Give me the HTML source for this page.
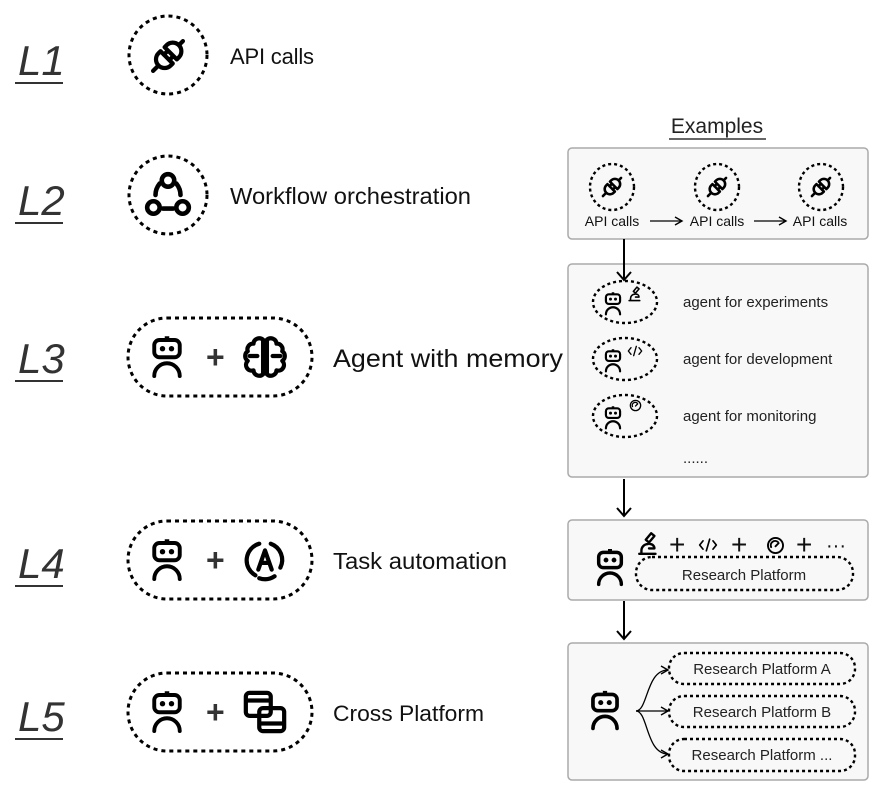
<!DOCTYPE html>
<html><head><meta charset="utf-8"><style>
html,body{margin:0;padding:0;background:#fff;}
svg{display:block;font-family:"Liberation Sans",sans-serif;}
</style></head><body>
<svg width="885" height="796" viewBox="0 0 885 796" xmlns="http://www.w3.org/2000/svg">
<defs>
<symbol id="robot" viewBox="0 0 24 28">
  <g fill="none" stroke="#000" stroke-width="2.6" stroke-linecap="round">
    <rect x="10.5" y="0.5" width="3" height="2.5" fill="#000" stroke="none"/>
    <rect x="3.5" y="3" width="17" height="11.5" rx="3.5"/>
    <path d="M3.5 27 A8.5 8.5 0 0 1 20.5 27"/>
  </g>
  <circle cx="9" cy="8.8" r="1.8" fill="#000"/><circle cx="15" cy="8.8" r="1.8" fill="#000"/>
</symbol>
<symbol id="plug" viewBox="0 0 24 24">
  <g fill="none" stroke="#000" stroke-width="2.2" stroke-linecap="round" stroke-linejoin="round" transform="rotate(45 12 12)">
    <line x1="12" y1="23" x2="12" y2="19"/>
    <path d="M7.5 13 h9 v1.5 a4.5 4.5 0 0 1 -9 0 z"/>
    <line x1="10" y1="13" x2="10" y2="10.5"/><line x1="14" y1="13" x2="14" y2="10.5"/>
    <path d="M7.5 10 h9 v-1.5 a4.5 4.5 0 0 0 -9 0 z"/>
    <line x1="12" y1="4" x2="12" y2="1"/>
  </g>
</symbol>
<symbol id="flow" viewBox="0 0 24 24">
  <g fill="none" stroke="#000" stroke-width="2.2" stroke-linecap="round">
    <circle cx="12" cy="5" r="3"/><circle cx="5" cy="18" r="3"/><circle cx="19" cy="18" r="3"/>
    <path d="M8 6.5 Q6 9 6 12"/><path d="M16 6.5 Q18 9 18 12"/><line x1="9.5" y1="18.5" x2="14.5" y2="18.5"/>
  </g>
</symbol>
<symbol id="brain" viewBox="0 0 24 24">
  <g fill="none" stroke="#000" stroke-width="2.2" stroke-linecap="round" stroke-linejoin="round">
    <path d="M11 3 a3 3 0 0 0 -5 2 a3 3 0 0 0 -3 4 a3 3 0 0 0 0 5 a3 3 0 0 0 3 5 a3 3 0 0 0 5 2 z"/>
    <path d="M13 3 a3 3 0 0 1 5 2 a3 3 0 0 1 3 4 a3 3 0 0 1 0 5 a3 3 0 0 1 -3 5 a3 3 0 0 1 -5 2 z"/>
    <path d="M4 11.5 h4 M20 11.5 h-4"/>
  </g>
</symbol>
<symbol id="auto" viewBox="0 0 24 24">
  <g fill="none" stroke="#000" stroke-width="2.2" stroke-linecap="round" stroke-linejoin="round">
    <path d="M9 3.5 A9 9 0 0 0 7 20"/><path d="M15 3.5 A9 9 0 0 1 20 16"/><path d="M17 20.5 A9 9 0 0 1 9 21.5"/>
    <path d="M8.5 17 L12 7 L15.5 17 M9.8 13.5 h4.4"/>
  </g>
</symbol>
<symbol id="windows" viewBox="0 0 24 24">
  <g fill="none" stroke="#000" stroke-width="2.2" stroke-linejoin="round">
    <rect x="2" y="2" width="13" height="12" rx="2"/><line x1="2" y1="6" x2="15" y2="6"/>
    <rect x="9" y="10" width="13" height="12" rx="2"/><line x1="9" y1="18" x2="22" y2="18"/>
  </g>
</symbol>
<symbol id="micro" viewBox="0 0 24 24">
  <g fill="none" stroke="#000" stroke-width="2.2" stroke-linecap="round" stroke-linejoin="round">
    <path d="M3 22 h15 M5 22 v-3 a6 6 0 0 1 6 -6"/><path d="M9 9 l5 -6 3 2.5 -5 6 z"/><path d="M13 13 a4 4 0 0 1 4 4 h-5"/>
  </g>
</symbol>
<symbol id="code" viewBox="0 0 24 24">
  <g fill="none" stroke="#000" stroke-width="2" stroke-linecap="round" stroke-linejoin="round">
    <path d="M6 7 L2 12 L6 17 M18 7 L22 12 L18 17 M14 5 L10 19"/>
  </g>
</symbol>
<symbol id="gauge" viewBox="0 0 24 24">
  <g fill="none" stroke="#000" stroke-width="2.4" stroke-linecap="round">
    <circle cx="12" cy="12" r="9.5"/><path d="M6.5 14 A5.5 5.5 0 0 1 15 7.5"/><path d="M12 13 L16 9"/>
  </g>
</symbol>
<marker id="ah" markerWidth="10" markerHeight="10" refX="8" refY="5" orient="auto" markerUnits="userSpaceOnUse">
  <path d="M1 1 L8 5 L1 9" fill="none" stroke="#000" stroke-width="1.4"/>
</marker>
<marker id="ah2" markerWidth="16" markerHeight="16" refX="8" refY="14" orient="0" markerUnits="userSpaceOnUse">
  <path d="M1 6 L8 14 L15 6" fill="none" stroke="#000" stroke-width="2"/>
</marker>
</defs>

<!-- Left labels -->
<g font-size="42" font-style="italic" fill="#333">
  <text x="18" y="75">L1</text><line x1="15" y1="83" x2="63" y2="83" stroke="#333" stroke-width="2"/>
  <text x="18" y="215">L2</text><line x1="15" y1="223" x2="63" y2="223" stroke="#333" stroke-width="2"/>
  <text x="18" y="373">L3</text><line x1="15" y1="381" x2="63" y2="381" stroke="#333" stroke-width="2"/>
  <text x="18" y="578">L4</text><line x1="15" y1="586" x2="63" y2="586" stroke="#333" stroke-width="2"/>
  <text x="18" y="731">L5</text><line x1="15" y1="739" x2="63" y2="739" stroke="#333" stroke-width="2"/>
</g>

<g fill="none" stroke="#000" stroke-width="3" stroke-dasharray="4 4">
  <circle cx="168" cy="55" r="39"/>
  <circle cx="168" cy="195" r="39"/>
  <rect x="128" y="318" width="184" height="78" rx="39"/>
  <rect x="128" y="521" width="184" height="78" rx="39"/>
  <rect x="128" y="673" width="184" height="78" rx="39"/>
</g>
<use href="#plug" x="145" y="33" width="46" height="46"/>
<use href="#flow" x="143" y="170" width="50" height="50"/>
<use href="#robot" x="149" y="335" width="36" height="43"/>
<use href="#robot" x="149" y="538" width="36" height="43"/>
<use href="#robot" x="149" y="690" width="36" height="43"/>
<g fill="#333" font-size="32" font-weight="bold"><text x="206" y="368">+</text><text x="206" y="571">+</text><text x="206" y="723">+</text></g>
<use href="#brain" x="242" y="334" width="46" height="46"/>
<use href="#auto" x="242" y="537" width="46" height="46"/>
<use href="#windows" x="242" y="689" width="46" height="46"/>

<g fill="#111">
  <text x="230" y="64" font-size="22" textLength="84">API calls</text>
  <text x="230" y="204" font-size="23" textLength="241" lengthAdjust="spacingAndGlyphs">Workflow orchestration</text>
  <text x="333" y="367" font-size="25" textLength="230" lengthAdjust="spacingAndGlyphs">Agent with memory</text>
  <text x="333" y="569" font-size="23" textLength="174" lengthAdjust="spacingAndGlyphs">Task automation</text>
  <text x="333" y="721" font-size="22" textLength="151" lengthAdjust="spacingAndGlyphs">Cross Platform</text>
</g>

<!-- Examples -->
<text x="717" y="133" font-size="21" fill="#222" text-anchor="middle">Examples</text>
<line x1="669" y1="139" x2="766" y2="139" stroke="#333" stroke-width="1.5"/>

<g fill="#f8f8f8" stroke="#aaa" stroke-width="1.5">
  <rect x="568" y="148" width="300" height="91" rx="4"/>
  <rect x="568" y="264" width="300" height="213" rx="4"/>
  <rect x="568" y="520" width="300" height="80" rx="4"/>
  <rect x="568" y="643" width="300" height="137" rx="4"/>
</g>

<!-- box1 -->
<g fill="none" stroke="#000" stroke-width="2.4" stroke-dasharray="3 3">
  <ellipse cx="612" cy="187" rx="22" ry="23"/><ellipse cx="717" cy="187" rx="22" ry="23"/><ellipse cx="821" cy="187" rx="22" ry="23"/>
</g>
<use href="#plug" x="598" y="173" width="28" height="28"/>
<use href="#plug" x="703" y="173" width="28" height="28"/>
<use href="#plug" x="807" y="173" width="28" height="28"/>
<g font-size="14" fill="#111" text-anchor="middle">
  <text x="612" y="226">API calls</text><text x="717" y="226">API calls</text><text x="820" y="226">API calls</text>
</g>
<g stroke="#000" stroke-width="1.3" marker-end="url(#ah)">
  <line x1="650" y1="221" x2="682" y2="221"/><line x1="754" y1="221" x2="786" y2="221"/>
</g>

<!-- arrows between boxes -->
<g stroke="#000" stroke-width="2" marker-end="url(#ah2)">
  <line x1="624" y1="239" x2="624" y2="280"/>
  <line x1="624" y1="479" x2="624" y2="516"/>
  <line x1="624" y1="601" x2="624" y2="639"/>
</g>

<!-- box2 -->
<g fill="none" stroke="#000" stroke-width="2.4" stroke-dasharray="3 3">
  <ellipse cx="625" cy="302" rx="32" ry="21"/><ellipse cx="625" cy="359" rx="32" ry="21"/><ellipse cx="625" cy="416" rx="32" ry="21"/>
</g>
<use href="#robot" x="603" y="291" width="20" height="25"/>
<use href="#robot" x="603" y="348" width="20" height="25"/>
<use href="#robot" x="603" y="405" width="20" height="25"/>
<use href="#micro" x="627" y="285" width="17" height="17"/>
<use href="#code" x="627" y="343" width="16" height="16"/>
<use href="#gauge" x="629" y="399" width="13" height="13"/>
<g font-size="15" fill="#222">
  <text x="683" y="307">agent for experiments</text>
  <text x="683" y="364">agent for development</text>
  <text x="683" y="421">agent for monitoring</text>
  <text x="683" y="463">......</text>
</g>

<!-- box3 -->
<use href="#robot" x="594" y="547" width="32" height="40"/>
<use href="#micro" x="636" y="530" width="26" height="26"/>
<use href="#code" x="698" y="535" width="20" height="20"/>
<use href="#gauge" x="766" y="536" width="19" height="19"/>
<g font-size="28" fill="#111"><text x="669" y="554">+</text><text x="731" y="554">+</text><text x="796" y="554">+</text></g>
<text x="826" y="552" font-size="20" fill="#111">···</text>
<rect x="636" y="557" width="217" height="33" rx="16" fill="none" stroke="#000" stroke-width="2.4" stroke-dasharray="3 3"/>
<text x="744" y="580" font-size="15" fill="#222" text-anchor="middle">Research Platform</text>

<!-- box4 -->
<use href="#robot" x="588" y="688" width="34" height="44"/>
<g fill="none" stroke="#000" stroke-width="1.3" marker-end="url(#ah)">
  <path d="M636 711 C648 711 646 670 668 670"/>
  <path d="M636 711 L668 711"/>
  <path d="M636 711 C648 711 646 754 668 754"/>
</g>
<g fill="none" stroke="#000" stroke-width="2.4" stroke-dasharray="3 3">
  <rect x="669" y="653" width="186" height="31" rx="15"/>
  <rect x="669" y="696" width="186" height="31" rx="15"/>
  <rect x="669" y="739" width="186" height="32" rx="15"/>
</g>
<g font-size="15" fill="#222" text-anchor="middle">
  <text x="762" y="674">Research Platform A</text>
  <text x="762" y="717">Research Platform B</text>
  <text x="762" y="760">Research Platform ...</text>
</g>
</svg>
</body></html>
